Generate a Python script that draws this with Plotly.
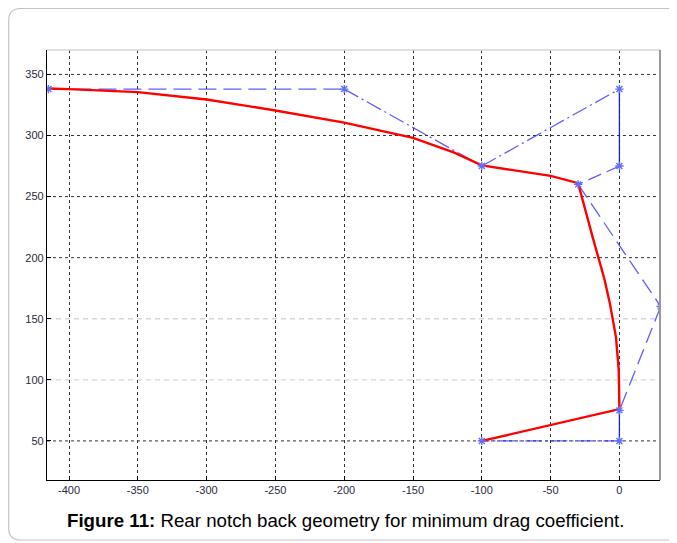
import plotly.graph_objects as go

# Control polygon (blue)
ctrl_x = [-415, -200, -100, 0, 0, -30, 30, 0, 0, -100]
ctrl_y = [338, 338, 275, 338, 275, 260, 160, 75, 50, 50]
# dash style of each segment between consecutive control points
seg_dash = ["18px,7px", "16px,4px,2px,4px", "16px,4px,2px,4px", "solid",
            "14px,6px", "16px,7px", "16px,7px", "solid", "16px,4px,2px,4px"]

# Optimised profile (red)
prof_x = [-415, -400, -350, -300, -250, -200, -150, -120, -100, -50, -30,
          -27.5, -19, -11, -7, -2.5, -0.5, 0, -100]
prof_y = [338.5, 338, 335.5, 329.5, 320.5, 310.5, 298, 286, 275.5, 267, 261,
          250, 215, 183, 163, 135, 108, 76, 50]

x_ticks = [-400, -350, -300, -250, -200, -150, -100, -50, 0]
y_ticks = [50, 100, 150, 200, 250, 300, 350]
light_grid_y = [100, 150]

caption = "<b>Figure 11:</b> Rear notch back geometry for minimum drag coefficient."

fig = go.Figure()

blue = "rgba(40,40,255,0.75)"
for i, d in enumerate(seg_dash):
    fig.add_trace(go.Scatter(
        x=ctrl_x[i:i + 2], y=ctrl_y[i:i + 2], mode="lines",
        line=dict(color=blue if d != "solid" else "rgba(20,20,255,0.95)", width=1.3, dash=d),
        showlegend=False, hoverinfo="skip"))

fig.add_trace(go.Scatter(
    x=prof_x, y=prof_y, mode="lines",
    line=dict(color="#ff0000", width=2.4), showlegend=False))

fig.add_trace(go.Scatter(
    x=ctrl_x, y=ctrl_y, mode="markers",
    marker=dict(symbol="asterisk-open", size=7, line=dict(color="rgba(20,20,255,0.9)", width=1.4)),
    showlegend=False))

shapes = []
for yv in y_ticks:
    light = yv in light_grid_y
    shapes.append(dict(type="line", xref="paper", yref="y", x0=0, x1=1, y0=yv, y1=yv,
                       line=dict(color="#d6d6d6" if light else "#333333",
                                 width=1.3 if light else 1, dash="5px,4px" if light else "dot"),
                       layer="below"))
# frame
shapes.append(dict(type="line", xref="paper", yref="paper", x0=0, x1=1, y0=1, y1=1,
                   line=dict(color="#d6d6d6", width=1.5)))
shapes.append(dict(type="line", xref="paper", yref="paper", x0=1, x1=1, y0=0, y1=1,
                   line=dict(color="#999999", width=2)))
# rounded outer border
x0, x1, y0, y1 = -0.0625, 1.1, -0.1395, 1.0965
rx, ry = 0.0196, 0.0279
path = (f"M {x1},{y1} L {x0+rx},{y1} Q {x0},{y1} {x0},{y1-ry} "
        f"L {x0},{y0+ry} Q {x0},{y0} {x0+rx},{y0} L {x1},{y0}")
shapes.append(dict(type="path", xref="paper", yref="paper", path=path,
                   line=dict(color="#c4c4c4", width=1.2)))

tick_font = dict(family="Liberation Sans, Arial, sans-serif", size=11, color="#2a2a40")

fig.update_layout(
    width=669, height=535,
    margin=dict(l=39, r=17, t=42, b=63),
    paper_bgcolor="white", plot_bgcolor="white",
    shapes=shapes,
    xaxis=dict(range=[-416, 29.5], tickvals=x_ticks, ticktext=[str(v) for v in x_ticks],
               showgrid=True, gridcolor="#333333", griddash="dot", gridwidth=1,
               zeroline=False, showline=True, linecolor="black", linewidth=1.3,
               ticks="inside", ticklen=4, tickcolor="black", tickfont=tick_font),
    yaxis=dict(range=[18, 370], tickvals=y_ticks, ticktext=[str(v) for v in y_ticks],
               showgrid=False, zeroline=False, showline=True, linecolor="black", linewidth=1.3,
               ticks="inside", ticklen=4, tickcolor="black", tickfont=tick_font),
    annotations=[dict(text=caption, xref="paper", yref="paper", x=0.487, y=-0.0953,
                      xanchor="center", yanchor="middle", showarrow=False,
                      font=dict(family="Liberation Sans, Arial, sans-serif", size=18.7, color="black"))],
)

fig.write_html("out.html")
